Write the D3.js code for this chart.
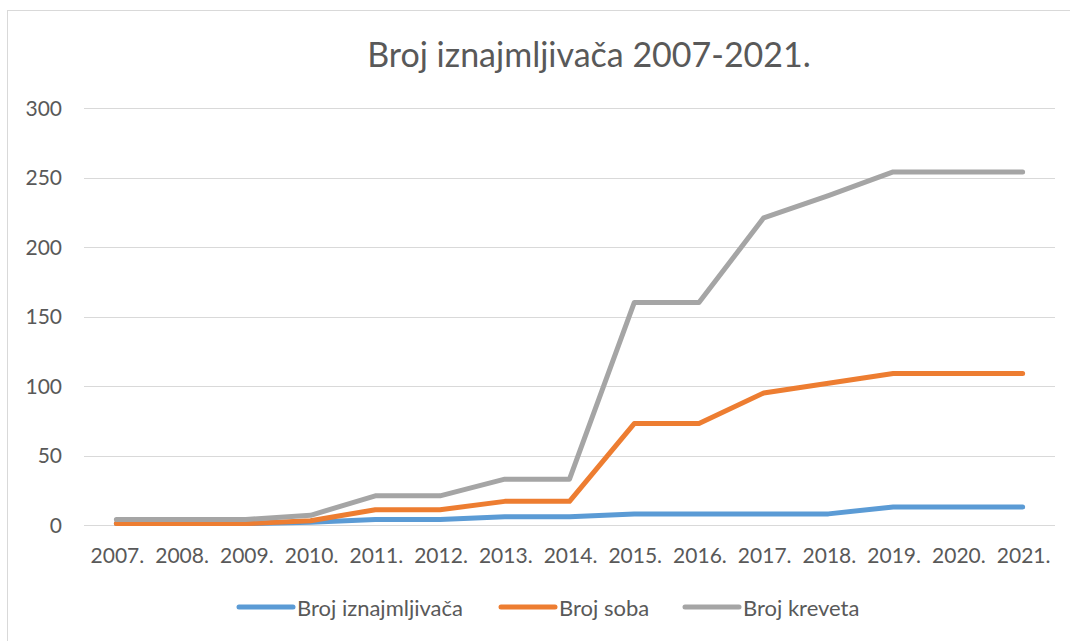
<!DOCTYPE html>
<html>
<head>
<meta charset="utf-8">
<script src="https://cdn.jsdelivr.net/npm/d3@7"></script>
<style>
  body { margin: 0; background: #fff; }
  svg { display: block; }
  text { font-family: Lato, "Open Sans", sans-serif; fill: #595959; }
</style>
</head>
<body>
<svg id="chart" width="1070" height="641"></svg>
<script>
const title = "Broj iznajmljivača 2007-2021.";
const years = ["2007.", "2008.", "2009.", "2010.", "2011.", "2012.", "2013.", "2014.", "2015.", "2016.", "2017.", "2018.", "2019.", "2020.", "2021."];
const iznajmljivaca = [1, 1, 1, 2, 4, 4, 6, 6, 8, 8, 8, 8, 13, 13, 13];
const sobe = [1, 1, 1, 3, 11, 11, 17, 17, 73, 73, 95, 102, 109, 109, 109];
const kreveti = [4, 4, 4, 7, 21, 21, 33, 33, 160, 160, 221, 237, 254, 254, 254];
const yTicks = [0, 50, 100, 150, 200, 250, 300];
const seriesNames = ["Broj iznajmljivača", "Broj soba", "Broj kreveta"];
const colors = ["#5B9BD5", "#ED7D31", "#A5A5A5"];

const svg = d3.select("#chart");

// outer chart border
svg.append("rect").attr("x", 7.5).attr("y", 10.5).attr("width", 1100).attr("height", 700)
  .attr("fill", "none").attr("stroke", "#D9D9D9").attr("stroke-width", 1);

const x = d3.scaleBand().domain(years).range([84, 1055]);
const y = d3.scaleLinear().domain([0, 300]).range([525, 108]);

// gridlines
svg.append("g").selectAll("line").data(yTicks).join("line")
  .attr("x1", 84).attr("x2", 1055)
  .attr("y1", d => Math.round(y(d)) + 0.5).attr("y2", d => Math.round(y(d)) + 0.5)
  .attr("stroke", "#D9D9D9").attr("stroke-width", 1);

// y axis labels
svg.append("g").selectAll("text").data(yTicks).join("text")
  .attr("x", 62).attr("y", d => y(d)).attr("dy", "0.36em")
  .attr("text-anchor", "end").attr("font-size", 21).text(d => d);

// x axis labels
svg.append("g").selectAll("text").data(years).join("text")
  .attr("x", d => x(d) + x.bandwidth() / 2 + 1).attr("y", 563)
  .attr("text-anchor", "middle").attr("font-size", 21).text(d => d);

// title
svg.append("text").attr("x", 589).attr("y", 67).attr("text-anchor", "middle")
  .attr("font-size", 34).text(title);

const line = d3.line()
  .x((d, i) => x(years[i]) + x.bandwidth() / 2)
  .y(d => y(d));

const data = [iznajmljivaca, sobe, kreveti];
data.forEach((s, k) => {
  svg.append("path").datum(s).attr("d", line)
    .attr("fill", "none").attr("stroke", colors[k]).attr("stroke-width", 5)
    .attr("stroke-linejoin", "round").attr("stroke-linecap", "round");
});

// legend
const legendX = [239, 501, 685];
const lg = svg.append("g");
seriesNames.forEach((n, k) => {
  lg.append("line").attr("x1", legendX[k]).attr("x2", legendX[k] + 54)
    .attr("y1", 607).attr("y2", 607)
    .attr("stroke", colors[k]).attr("stroke-width", 5).attr("stroke-linecap", "round");
  lg.append("text").attr("x", legendX[k] + 58).attr("y", 608).attr("dy", "0.36em")
    .attr("font-size", 22).text(n);
});
</script>
</body>
</html>
